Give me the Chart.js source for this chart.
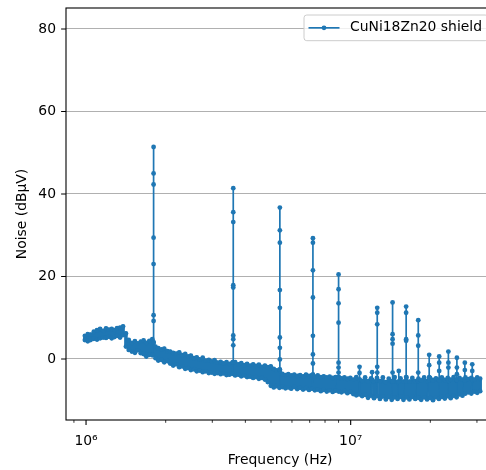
<!DOCTYPE html>
<html><head><meta charset="utf-8">
<script src="https://cdn.jsdelivr.net/npm/chart.js@4/dist/chart.umd.min.js"></script>
<style>html,body{margin:0;padding:0;overflow:hidden;background:#fff;width:486px;height:470px}canvas{display:block}</style>
</head><body>
<canvas id="c" width="510" height="470"></canvas>
<script>
const seriesLabel = 'CuNi18Zn20 shield';
const xTitle = 'Frequency (Hz)';
const yTitle = 'Noise (dBµV)';

// Baseline noise band: frequency (MHz), upper and lower edge of the band (dBµV)
const freqMHz = [
  0.99, 1.015, 1.04, 1.07, 1.10, 1.13, 1.16, 1.19, 1.22, 1.25,
  1.28, 1.31, 1.345, 1.38, 1.415, 1.45, 1.49, 1.53, 1.57, 1.61,
  1.65, 1.69, 1.735, 1.78, 1.83, 1.875, 1.925, 1.975, 2.03, 2.08,
  2.135, 2.19, 2.25, 2.31, 2.37, 2.43, 2.49, 2.56, 2.62, 2.69,
  2.76, 2.835, 2.91, 2.985, 3.06, 3.14, 3.225, 3.31, 3.395, 3.48,
  3.57, 3.66, 3.76, 3.86, 3.96, 4.06, 4.17, 4.28, 4.39, 4.50,
  4.62, 4.74, 4.86, 4.99, 5.12, 5.25, 5.38, 5.52, 5.67, 5.81,
  5.96, 6.12, 6.28, 6.44, 6.61, 6.78, 6.96, 7.14, 7.32, 7.51,
  7.71, 7.91, 8.12, 8.33, 8.55, 8.77, 9.01, 9.23, 9.47, 9.72,
  9.97, 10.23, 10.5, 10.77, 11.05, 11.34, 11.63, 11.94, 12.25, 12.57,
  12.9, 13.23, 13.58, 13.93, 14.29, 14.66, 15.04, 15.43, 15.83, 16.24,
  16.67, 17.1, 17.54, 18.03, 18.47, 18.95, 19.44, 19.95, 20.47, 21.0,
  21.55, 22.1, 22.68, 23.27, 23.87, 24.49, 25.13, 25.78, 26.45, 27.14,
  27.85, 28.57, 29.31, 30.07, 30.85
];
const upperDb = [
  5.6, 6.0, 5.9, 6.6, 7.0, 7.3, 6.8, 7.4, 7.1, 7.3,
  7.0, 7.5, 7.6, 7.9, 6.2, 4.6, 3.9, 4.3, 3.8, 4.2,
  4.5, 3.9, 4.4, 4.8, 3.0, 2.6, 2.3, 2.5, 1.9, 1.8,
  1.5, 1.3, 1.6, 0.9, 1.2, 0.6, 0.8, 0.2, 0.4, -0.1,
  0.3, -0.4, -0.2, -0.6, -0.3, -0.9, -0.7, -1.1, -0.8, -1.2,
  -0.9, -0.8, -1.3, -1.0, -1.5, -1.2, -1.6, -1.3, -1.7, -1.4,
  -1.9, -1.6, -2.0, -1.8, -2.4, -2.8, -2.6, -3.6, -3.9, -3.7,
  -4.0, -3.8, -4.1, -3.9, -4.2, -3.8, -4.1, -3.9, -4.3, -4.0,
  -4.4, -4.2, -4.5, -4.3, -4.6, -4.4, -4.5, -4.7, -4.5, -4.8,
  -4.6, -5.0, -4.4, -5.1, -5.3, -4.5, -5.4, -4.7, -5.5, -4.6,
  -5.4, -4.5, -5.6, -4.8, -5.5, -4.4, -5.6, -4.7, -5.5, -4.5,
  -5.5, -4.6, -5.4, -4.8, -5.2, -4.5, -5.3, -4.6, -5.1, -4.7,
  -5.0, -4.5, -5.1, -4.6, -5.0, -4.4, -5.1, -4.6, -5.0, -4.5,
  -4.9, -4.6, -5.0, -4.5, -4.8
];
const lowerDb = [
  4.6, 4.3, 4.6, 4.9, 4.7, 5.0, 5.2, 5.1, 5.4, 5.0,
  5.3, 5.6, 5.2, 5.8, 3.0, 2.2, 1.8, 1.5, 2.1, 1.4,
  1.2, 0.6, 1.0, 0.9, 0.2, -0.4, -0.2, -0.8, -0.5, -1.1,
  -1.6, -1.3, -2.0, -1.8, -2.4, -2.2, -2.7, -2.5, -3.0, -2.8,
  -3.2, -3.0, -3.4, -3.3, -3.6, -3.4, -3.7, -3.5, -3.9, -3.8,
  -3.6, -4.0, -3.8, -4.2, -4.0, -4.4, -4.3, -4.6, -4.4, -4.8,
  -4.6, -5.0, -5.6, -6.5, -6.9, -6.6, -7.0, -6.8, -7.1, -6.9,
  -7.2, -6.8, -7.3, -7.0, -7.4, -7.1, -7.5, -7.2, -7.6, -7.4,
  -7.8, -7.5, -7.9, -7.6, -8.0, -7.7, -7.9, -8.1, -7.8, -8.3,
  -8.0, -8.5, -8.8, -8.6, -9.0, -8.7, -9.4, -8.9, -9.5, -9.0,
  -9.7, -9.1, -9.8, -9.2, -9.9, -9.3, -9.7, -9.2, -9.9, -9.3,
  -9.8, -9.2, -9.7, -9.4, -9.9, -9.3, -9.8, -9.4, -10.0, -9.3,
  -9.7, -9.2, -9.6, -9.0, -9.5, -8.9, -9.3, -8.6, -8.9, -8.4,
  -8.1, -8.4, -7.9, -8.2, -7.8
];

// Harmonic spikes: frequency (MHz) and the sampled levels along each spike (dBµV)
const spikeFreqMHz = [1.8, 3.6, 5.4, 7.2, 9.0, 10.8, 12.05, 12.6, 14.4, 15.2, 16.2, 18.0, 19.8, 21.6, 23.4, 25.2, 27.0, 28.8];
const spikeDb = [
  [4.0, 9.2, 10.6, 23.0, 29.4, 42.3, 45.0, 51.4],
  [-0.8, 3.3, 4.8, 5.7, 17.3, 17.9, 33.2, 35.6, 41.4],
  [-2.6, -0.1, 2.7, 5.2, 12.4, 16.7, 28.2, 31.2, 36.7],
  [-3.8, -1.1, 1.1, 5.6, 14.9, 21.5, 28.2, 29.3],
  [-4.4, -3.3, -2.1, -0.9, 8.8, 13.5, 16.9, 20.5],
  [-5.0, -3.4, -1.9],
  [-5.1, -3.2],
  [-5.2, -3.3, -1.9, 8.4, 11.2, 12.4],
  [-5.4, -3.3, 3.7, 4.8, 6.0, 13.7],
  [-5.5, -2.9],
  [-5.4, -4.4, 4.4, 4.8, 11.2, 12.7],
  [-5.3, -3.3, 3.2, 5.7, 9.4],
  [-5.1, -4.4, -1.5, 1.0],
  [-5.2, -2.9, -0.9, 0.6],
  [-5.3, -2.1, -0.9, 1.8],
  [-5.1, -3.7, -2.1, 0.3],
  [-5.2, -2.7, -0.9],
  [-5.1, -2.9, -1.3]
];

const yTickValues = [0, 20, 40, 60, 80];
const xMajorTicks = [1e6, 1e7];
const xTickLabels = ['10⁶', '10⁷'];
const xMinorTicks = [9e5, 2e6, 3e6, 4e6, 5e6, 6e6, 7e6, 8e6, 9e6, 2e7, 3e7];

// Build the single trace in frequency order (b marks points of the dense noise band)
const points = [];
let s = 0;
function addSpike(k) {
  const f = spikeFreqMHz[k] * 1e6;
  spikeDb[k].forEach(v => points.push({x: f, y: v, b: 0}));
  points.push({x: f, y: spikeDb[k][0], b: 0});
}
for (let i = 0; i < freqMHz.length; i++) {
  while (s < spikeFreqMHz.length && spikeFreqMHz[s] < freqMHz[i]) { addSpike(s); s++; }
  points.push({x: freqMHz[i] * 1e6, y: upperDb[i], b: 1});
  points.push({x: freqMHz[i] * 1e6, y: lowerDb[i], b: 1});
}
while (s < spikeFreqMHz.length) { addSpike(s); s++; }

const FONT = "'DejaVu Sans', sans-serif";
const FS = 13.9;
const BLUE = '#1f77b4';

const framePlugin = {
  id: 'frame',
  afterDatasetsDraw(chart) {
    const {ctx, chartArea: a, scales: {x, y}} = chart;
    ctx.save();
    ctx.strokeStyle = '#000';
    ctx.lineWidth = 1.1;
    ctx.strokeRect(a.left, a.top, a.right - a.left, a.bottom - a.top);
    ctx.beginPath();
    yTickValues.forEach(v => { const p = y.getPixelForValue(v); ctx.moveTo(a.left - 4.9, p); ctx.lineTo(a.left, p); });
    xMajorTicks.forEach(v => { const p = x.getPixelForValue(v); ctx.moveTo(p, a.bottom); ctx.lineTo(p, a.bottom + 4.9); });
    ctx.stroke();
    ctx.lineWidth = 0.8;
    ctx.beginPath();
    xMinorTicks.forEach(v => { const p = x.getPixelForValue(v); ctx.moveTo(p, a.bottom); ctx.lineTo(p, a.bottom + 2.8); });
    ctx.stroke();

    // legend (upper right, inside the axes)
    const ds = chart.data.datasets[0];
    ctx.font = FS + 'px ' + FONT;
    const tw = ctx.measureText(ds.label).width;
    const bx = a.right - 190, by = a.top + 7, bh = 25.7;
    const bw = 46 + tw + 6;
    const r = 2.8;
    ctx.beginPath();
    ctx.moveTo(bx + r, by);
    ctx.lineTo(bx + bw - r, by); ctx.arcTo(bx + bw, by, bx + bw, by + r, r);
    ctx.lineTo(bx + bw, by + bh - r); ctx.arcTo(bx + bw, by + bh, bx + bw - r, by + bh, r);
    ctx.lineTo(bx + r, by + bh); ctx.arcTo(bx, by + bh, bx, by + bh - r, r);
    ctx.lineTo(bx, by + r); ctx.arcTo(bx, by, bx + r, by, r);
    ctx.closePath();
    ctx.fillStyle = 'rgba(255,255,255,0.8)';
    ctx.fill();
    ctx.strokeStyle = '#cccccc';
    ctx.lineWidth = 1;
    ctx.stroke();
    const ly = by + bh / 2;
    ctx.strokeStyle = ds.borderColor;
    ctx.lineWidth = ds.borderWidth;
    ctx.beginPath(); ctx.moveTo(bx + 4.5, ly); ctx.lineTo(bx + 35.5, ly); ctx.stroke();
    ctx.fillStyle = ds.borderColor;
    ctx.beginPath(); ctx.arc(bx + 20, ly, 2.4, 0, Math.PI * 2); ctx.fill();
    ctx.fillStyle = '#000';
    ctx.textAlign = 'left';
    ctx.textBaseline = 'middle';
    ctx.fillText(ds.label, bx + 46, ly);
    ctx.restore();
  }
};

Chart.defaults.font.family = FONT;
Chart.defaults.font.size = FS;
Chart.defaults.color = '#000';

new Chart(document.getElementById('c').getContext('2d'), {
  type: 'line',
  data: {
    datasets: [{
      label: seriesLabel,
      data: points,
      borderColor: BLUE,
      backgroundColor: BLUE,
      borderWidth: 1.7,
      borderJoinStyle: 'round',
      borderCapStyle: 'round',
      pointRadius: 2.4,
      pointBorderWidth: 0,
      pointHoverRadius: 0,
      tension: 0,
      fill: false,
      segment: {
        borderWidth: c => (points[c.p0DataIndex].b && points[c.p1DataIndex].b) ? 3.6 : 1.7
      }
    }]
  },
  options: {
    responsive: false,
    animation: false,
    devicePixelRatio: 1,
    events: [],
    layout: {padding: {top: 8, right: 16, left: 0, bottom: 0}},
    plugins: {legend: {display: false}, tooltip: {enabled: false}},
    scales: {
      x: {
        type: 'logarithmic',
        min: 8.40e5,
        max: 3.48e7,
        afterBuildTicks(sc) { sc.ticks = xMajorTicks.map(v => ({value: v})); },
        afterFit(sc) { sc.height = 50; sc.paddingLeft = 0; sc.paddingRight = 0; },
        grid: {display: false, drawTicks: false},
        border: {display: false},
        ticks: {
          autoSkip: false, maxRotation: 0, minRotation: 0, padding: 13,
          callback: (v) => { const k = xMajorTicks.indexOf(v); return k >= 0 ? xTickLabels[k] : ''; }
        },
        title: {display: true, text: xTitle, padding: {top: 0, bottom: 1}}
      },
      y: {
        min: -14.8,
        max: 85.1,
        afterBuildTicks(sc) { sc.ticks = yTickValues.map(v => ({value: v})); },
        afterFit(sc) { sc.width = 66; sc.paddingTop = 0; sc.paddingBottom = 0; },
        grid: {color: '#b0b0b0', lineWidth: 1.1, drawTicks: false},
        border: {display: false},
        ticks: {padding: 10, callback: (v) => String(v)},
        title: {display: true, text: yTitle, padding: {top: 14, bottom: 0}}
      }
    }
  },
  plugins: [framePlugin]
});
</script>
</body></html>
